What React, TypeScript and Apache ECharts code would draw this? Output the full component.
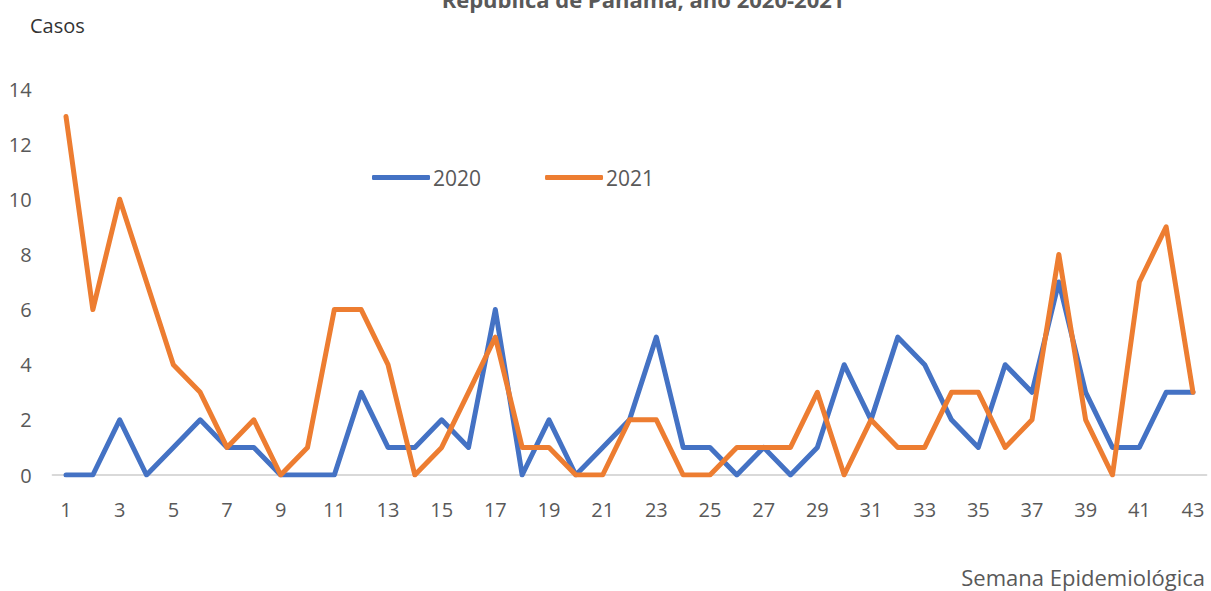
import React, { useEffect, useRef } from "react";
import * as echarts from "echarts";

const weeks: string[] = Array.from({ length: 43 }, (_, i) => String(i + 1));
const cases2020: number[] = [0, 0, 2, 0, 1, 2, 1, 1, 0, 0, 0, 3, 1, 1, 2, 1, 6, 0, 2, 0, 1, 2, 5, 1, 1, 0, 1, 0, 1, 4, 2, 5, 4, 2, 1, 4, 3, 7, 3, 1, 1, 3, 3];
const cases2021: number[] = [13, 6, 10, 7, 4, 3, 1, 2, 0, 1, 6, 6, 4, 0, 1, 3, 5, 1, 1, 0, 0, 2, 2, 0, 0, 1, 1, 1, 3, 0, 2, 1, 1, 3, 3, 1, 2, 8, 2, 0, 7, 9, 3];
const seriesNames: string[] = ["2020", "2021"];
const titleText = "República de Panamá, año 2020-2021";
const yAxisName = "Casos";
const xAxisName = "Semana Epidemiológica";

const FONT = "'Open Sans', sans-serif";
const GRAY = "#595959";

export default function App() {
  const ref = useRef<HTMLDivElement>(null);
  useEffect(() => {
    if (!ref.current) return;
    const chart = echarts.init(ref.current, undefined, { renderer: "svg" });
    chart.setOption({
      animation: false,
      backgroundColor: "#ffffff",
      textStyle: { fontFamily: FONT },
      grid: { left: 52.6, right: 4.6, top: 89, bottom: 116, containLabel: false },
      legend: {
        left: 367,
        top: 162,
        icon: "roundRect",
        itemWidth: 58,
        itemHeight: 5,
        itemGap: 64,
        textStyle: { fontFamily: FONT, fontSize: 21, color: GRAY, padding: [0, 0, 0, -2] },
        data: seriesNames,
      },
      xAxis: {
        type: "category",
        data: weeks,
        boundaryGap: true,
        axisLine: { show: true, lineStyle: { color: "#d9d9d9", width: 2 } },
        axisTick: { show: false },
        axisLabel: { interval: 1, margin: 24, fontFamily: FONT, fontSize: 20, color: GRAY },
      },
      yAxis: {
        type: "value",
        min: 0,
        max: 14,
        interval: 2,
        splitLine: { show: false },
        axisLine: { show: false },
        axisTick: { show: false },
        axisLabel: { margin: 21, fontFamily: FONT, fontSize: 20, color: GRAY },
      },
      graphic: [
        {
          type: "text",
          x: 643,
          y: -1,
          style: {
            text: titleText,
            font: `bold 22px ${FONT}`,
            fill: GRAY,
            textAlign: "center",
            textVerticalAlign: "middle",
          },
        },
        {
          type: "text",
          x: 30,
          y: 25,
          style: {
            text: yAxisName,
            font: `20px ${FONT}`,
            fill: "#333333",
            textAlign: "left",
            textVerticalAlign: "middle",
          },
        },
        {
          type: "text",
          x: 1205,
          y: 577,
          style: {
            text: xAxisName,
            font: `22px ${FONT}`,
            fill: GRAY,
            textAlign: "right",
            textVerticalAlign: "middle",
          },
        },
      ],
      series: [
        {
          name: seriesNames[0],
          type: "line",
          data: cases2020,
          symbol: "none",
          color: "#4472C4",
          lineStyle: { width: 5, color: "#4472C4", cap: "round", join: "round" },
          z: 2,
        },
        {
          name: seriesNames[1],
          type: "line",
          data: cases2021,
          symbol: "none",
          color: "#ED7D31",
          lineStyle: { width: 5, color: "#ED7D31", cap: "round", join: "round" },
          z: 3,
        },
      ],
    });
    return () => chart.dispose();
  }, []);
  return (
    <div
      ref={ref}
      style={{ position: "fixed", left: 0, top: 0, width: 1211, height: 591 }}
    />
  );
}
